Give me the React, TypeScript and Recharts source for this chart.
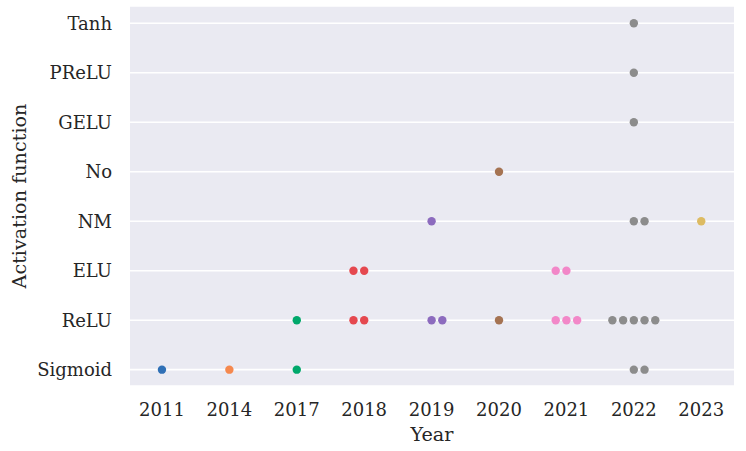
import React from "react";
import { ScatterChart, Scatter, XAxis, YAxis, CartesianGrid, Label } from "recharts";

const years = ["2011", "2014", "2017", "2018", "2019", "2020", "2021", "2022", "2023"];
const functions = ["Sigmoid", "ReLU", "ELU", "NM", "No", "GELU", "PReLU", "Tanh"];
const yearColors = ["#3070B6", "#F5884E", "#00A86B", "#E5484F", "#8C6BBE", "#A57352", "#F287C8", "#8C8C8C", "#DDBB62"];

// observations: [year, activation function]
const observations: [string, string][] = [
  ["2011", "Sigmoid"],
  ["2014", "Sigmoid"],
  ["2017", "Sigmoid"],
  ["2017", "ReLU"],
  ["2018", "ReLU"], ["2018", "ReLU"],
  ["2018", "ELU"], ["2018", "ELU"],
  ["2019", "ReLU"], ["2019", "ReLU"],
  ["2019", "NM"],
  ["2020", "ReLU"],
  ["2020", "No"],
  ["2021", "ReLU"], ["2021", "ReLU"], ["2021", "ReLU"],
  ["2021", "ELU"], ["2021", "ELU"],
  ["2022", "ReLU"], ["2022", "ReLU"], ["2022", "ReLU"], ["2022", "ReLU"], ["2022", "ReLU"],
  ["2022", "Sigmoid"], ["2022", "Sigmoid"],
  ["2022", "NM"], ["2022", "NM"],
  ["2022", "GELU"],
  ["2022", "PReLU"],
  ["2022", "Tanh"],
  ["2023", "NM"],
];

// swarm layout settings
const SWARM_STEP = 0.159;
const leanLeftYears = ["2018", "2021"];

function buildSeries() {
  const groups = new Map<string, number>();
  observations.forEach(([yr, fn]) => {
    const k = yr + "|" + fn;
    groups.set(k, (groups.get(k) || 0) + 1);
  });
  return years.map((yr, yi) => {
    const pts: { x: number; y: number }[] = [];
    functions.forEach((fn, fi) => {
      const n = groups.get(yr + "|" + fn) || 0;
      if (!n) return;
      let start: number;
      if (n % 2 === 1) start = -(n - 1) / 2;
      else start = leanLeftYears.includes(yr) ? -n / 2 : -(n / 2 - 1);
      for (let i = 0; i < n; i++) {
        pts.push({ x: yi + (start + i) * SWARM_STEP, y: fi });
      }
    });
    return { yr, color: yearColors[yi], pts };
  });
}

const series = buildSeries();
const FONT = "DejaVu Serif";
const TEXT = "#262626";

const XTick = (props: any) => {
  const { x, y, payload } = props;
  return (
    <text x={x} y={y + 22} textAnchor="middle" fontFamily={FONT} fontSize={18} fill={TEXT}>
      {years[payload.value]}
    </text>
  );
};

const YTick = (props: any) => {
  const { x, y, payload } = props;
  return (
    <text x={x - 10} y={y} dy="0.36em" textAnchor="end" fontFamily={FONT} fontSize={18} fill={TEXT}>
      {functions[payload.value]}
    </text>
  );
};

export default function App() {
  return (
    <div style={{ position: "absolute", left: 0, top: 0, width: 746, height: 451, background: "#fff" }}>
      <ScatterChart width={746} height={451} margin={{ top: 6, right: 12, bottom: 0, left: 0 }}>
        <CartesianGrid vertical={false} stroke="#FFFFFF" strokeWidth={1.6} fill="#EAEAF2" fillOpacity={1} />
        <XAxis
          type="number"
          dataKey="x"
          domain={[-0.474, 8.486]}
          ticks={years.map((_, i) => i)}
          tick={<XTick />}
          tickLine={false}
          axisLine={false}
          height={65}
          allowDataOverflow
        >
          <Label
            content={(p: any) => {
              const vb = p.viewBox;
              return (
                <text x={vb.x + vb.width / 2} y={441} textAnchor="middle" fontFamily={FONT} fontSize={19.2} fill={TEXT}>
                  Year
                </text>
              );
            }}
          />
        </XAxis>
        <YAxis
          type="number"
          dataKey="y"
          domain={[-0.33, 7.35]}
          ticks={functions.map((_, i) => i)}
          tick={<YTick />}
          tickLine={false}
          axisLine={false}
          width={130}
          allowDataOverflow
        >
          <Label
            content={(p: any) => {
              const vb = p.viewBox;
              const cy = vb.y + vb.height / 2;
              return (
                <text
                  x={19}
                  y={cy}
                  dy="0.36em"
                  textAnchor="middle"
                  transform={`rotate(-90, 19, ${cy})`}
                  fontFamily={FONT}
                  fontSize={19.2}
                  fill={TEXT}
                >
                  Activation function
                </text>
              );
            }}
          />
        </YAxis>
        {series.map((s) => (
          <Scatter
            key={s.yr}
            name={s.yr}
            data={s.pts}
            fill={s.color}
            isAnimationActive={false}
            shape={(p: any) => <circle cx={p.cx} cy={p.cy} r={4.2} fill={s.color} />}
          />
        ))}
      </ScatterChart>
    </div>
  );
}
